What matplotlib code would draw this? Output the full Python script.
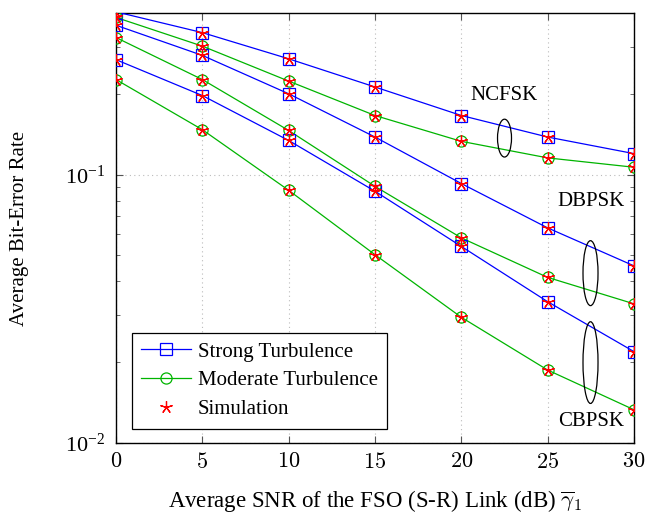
import numpy as np
import matplotlib
matplotlib.use("Agg")
from matplotlib import pyplot as plt
from matplotlib.patches import Ellipse
from matplotlib.ticker import FixedLocator, LogLocator, NullFormatter

plt.rcParams['font.family'] = ['Liberation Serif', 'DejaVu Serif']
plt.rcParams['mathtext.fontset'] = 'cm'

snr = [0, 5, 10, 15, 20, 25, 30]

#####* bit-error rates
ncfsk_strong = [0.404, 0.338, 0.270, 0.212, 0.166, 0.138, 0.1197]
ncfsk_moderate = [0.385, 0.301, 0.223, 0.166, 0.133, 0.1154, 0.1065]
dbpsk_strong = [0.360, 0.278, 0.200, 0.138, 0.0926, 0.0633, 0.0457]
dbpsk_moderate = [0.324, 0.226, 0.146, 0.0904, 0.0581, 0.0414, 0.0330]
cbpsk_strong = [0.268, 0.197, 0.134, 0.0867, 0.0540, 0.0336, 0.0219]
cbpsk_moderate = [0.226, 0.147, 0.0874, 0.0503, 0.0294, 0.0187, 0.0133]

strong = [ncfsk_strong, dbpsk_strong, cbpsk_strong]
moderate = [ncfsk_moderate, dbpsk_moderate, cbpsk_moderate]

blue = '#0000ff'
green = '#00b400'
red = '#ff0000'
star = (5, 2, 0)

fig = plt.figure(figsize=(6.56, 5.17), dpi=100)
ax = fig.add_axes([0.1768, 0.1431, 0.7897, 0.8318])

for i, (s, m) in enumerate(zip(strong, moderate)):
    ax.plot(snr, s, color=blue, lw=0.9, marker='s', ms=8, mfc='none', mec=blue,
            mew=0.9, label='Strong Turbulence' if i == 0 else None, zorder=3)
    ax.plot(snr, m, color=green, lw=0.9, marker='o', ms=8, mfc='none', mec=green,
            mew=0.9, label='Moderate Turbulence' if i == 0 else None, zorder=3)
    ax.plot(snr, s, ls='none', marker=star, ms=9, mec=red, mew=0.9,
            label='Simulation' if i == 0 else None, zorder=4)
    ax.plot(snr, m, ls='none', marker=star, ms=9, mec=red, mew=0.9, zorder=4)

ax.set_yscale('log')
ax.set_xlim(0, 30)
ax.set_ylim(0.01, 0.4)
ax.xaxis.set_major_locator(FixedLocator(snr))
ax.set_xticklabels([f'${v}$' for v in snr])
ax.yaxis.set_major_locator(LogLocator(base=10, numticks=10))
ax.yaxis.set_minor_locator(LogLocator(base=10, subs=np.arange(2, 10), numticks=10))
ax.yaxis.set_minor_formatter(NullFormatter())
ax.tick_params(which='both', direction='in', top=True, right=True, labelsize=16)
ax.tick_params(axis='x', pad=7)
ax.tick_params(axis='y', pad=8)
ax.tick_params(which='major', length=5, color='#555555')
ax.tick_params(which='minor', length=3, color='#555555')
ax.grid(True, which='major', ls=(0, (1, 3)), color='#bbbbbb', lw=0.8)
for sp in ax.spines.values():
    sp.set_linewidth(1.0)

ax.set_xlabel(r'Average SNR of the FSO (S-R) Link (dB) $\overline{\gamma}_1$', fontsize=16.5)
ax.set_ylabel('Average Bit-Error Rate', fontsize=15)
ax.xaxis.set_label_coords(0.5, -0.105)
ax.yaxis.set_label_coords(-0.168, 0.5)

#####* annotations
ax.text(0.749, 0.808, 'NCFSK', transform=ax.transAxes, ha='center', va='center', fontsize=15)
ax.text(0.916, 0.561, 'DBPSK', transform=ax.transAxes, ha='center', va='center', fontsize=15)
ax.text(0.918, 0.05, 'CBPSK', transform=ax.transAxes, ha='center', va='center', fontsize=15)
for cx, cy, w, h in [(0.750, 0.709, 0.027, 0.088), (0.916, 0.395, 0.029, 0.151),
                     (0.916, 0.187, 0.029, 0.190)]:
    ax.add_patch(Ellipse((cx, cy), w, h, transform=ax.transAxes, fill=False,
                         ec='black', lw=0.9, zorder=5))

leg = ax.legend(loc='lower left', bbox_to_anchor=(0.031, 0.033), fontsize=15,
                fancybox=False, edgecolor='black', framealpha=1, handlelength=2.4,
                borderpad=0.45, labelspacing=0.45, handletextpad=0.3, borderaxespad=0)
leg.get_frame().set_linewidth(0.9)

fig.savefig('out.png', dpi=100)
